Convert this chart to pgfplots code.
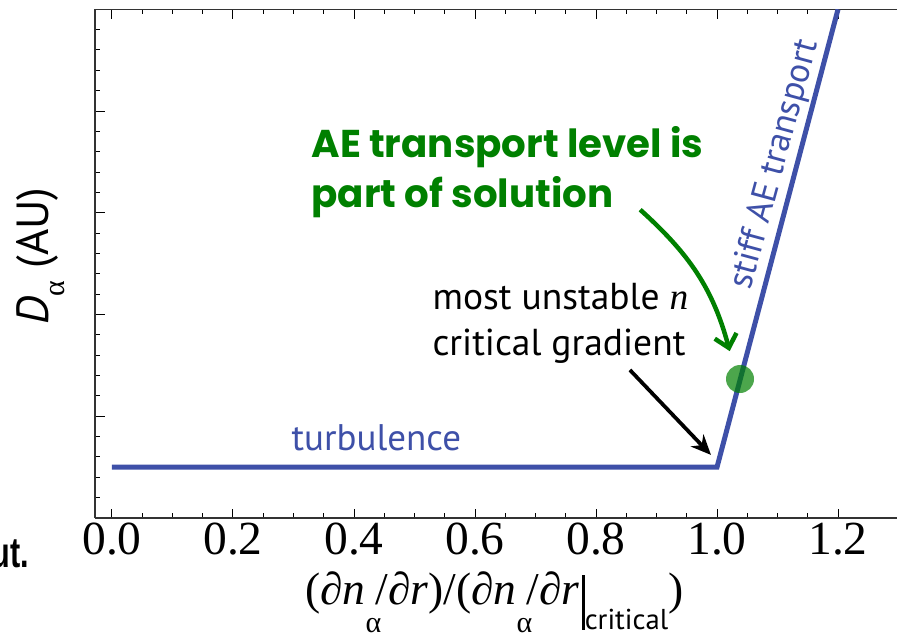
\documentclass[border=0pt]{standalone}
\usepackage{fontspec}
\setmainfont{Liberation Serif}
\newfontfamily\myr{PT Sans}
\newfontfamily\gothic{Poppins}
\newfontfamily\hel{Liberation Sans}
\usepackage{pgfplots}
\pgfplotsset{compat=1.18}
\usetikzlibrary{arrows.meta}
\definecolor{myblue}{RGB}{62,80,168}
\definecolor{mygreen}{RGB}{0,128,0}
\newcommand\suba{\makebox[0.22em][l]{\raisebox{-11pt}{\fontsize{12}{12}\selectfont α}}}
\begin{document}
\begin{tikzpicture}
\begin{axis}[
  width=321.4pt, height=203.5pt, scale only axis,
  xmin=-0.028, xmax=1.3, ymin=0, ymax=5,
  axis x line*=box, axis y line*=left,
  clip mode=individual,
  xtick={0,0.2,0.4,0.6,0.8,1.0,1.2}, minor x tick num=3,
  ytick={0,1,2,3,4,5}, minor y tick num=4, yticklabels={},
  tick align=inside,
  major tick length=3.8pt, minor tick length=2pt,
  tick style={black, line width=0.4pt},
  axis line style={black!80, line width=0.6pt},
  /pgf/number format/assume math mode=true,
  xticklabel style={font=\fontsize{19}{19}\selectfont, yshift=1.4pt,
    /pgf/number format/fixed, /pgf/number format/fixed zerofill,
    /pgf/number format/precision=1},
]
\addplot[myblue, line width=2pt] coordinates {(0,0.5) (1.0,0.5) (1.2,5)};
\addplot[only marks, mark=*, mark size=5.6pt,
  mark options={fill=mygreen, fill opacity=0.7, draw opacity=0}]
  coordinates {(1.038,1.366)};

\node[anchor=base west, inner sep=0, text=myblue, font=\myr\fontsize{14.8}{16}\selectfont]
  at (axis cs:0.296,0.668) {turbulence};
\node[anchor=base, inner sep=0, text=myblue, rotate=74.8, font=\myr\fontsize{14.2}{16}\selectfont]
  at (axis cs:1.1114,3.453) {stiff AE transport};
\node[anchor=base west, inner sep=0, font=\myr\fontsize{15}{18}\selectfont]
  at (axis cs:0.529,2.045) {most unstable {\rmfamily\itshape n}};
\node[anchor=base west, inner sep=0, font=\myr\fontsize{15}{18}\selectfont]
  at (axis cs:0.529,1.60) {critical gradient};
\node[anchor=base west, inner sep=0, text=mygreen, font=\gothic\bfseries\fontsize{15.5}{20}\selectfont]
  at (axis cs:0.329,3.54) {AE transport level is};
\node[anchor=base west, inner sep=0, text=mygreen, font=\gothic\bfseries\fontsize{15.5}{20}\selectfont]
  at (axis cs:0.329,3.05) {part of solution};

\draw[black, line width=1.5pt, -{Stealth[length=8pt,width=7pt]}]
  (axis cs:0.856,1.455) -- (axis cs:0.990,0.62);
\draw[mygreen, line width=1.8pt, -{Straight Barb[length=5pt,width=9pt]}]
  (axis cs:0.873,3.03) to[out=-42,in=105] (axis cs:1.021,1.64);

% y label
\node[rotate=90, anchor=center, inner sep=0, font=\myr\fontsize{18}{18}\selectfont]
  at (axis cs:-0.118,2.575) {{\itshape D}\raisebox{-0.35em}{\rmfamily\fontsize{12}{12}\selectfont α} (AU)};
% x label
\node[anchor=base, inner sep=0, font=\rmfamily\fontsize{18.2}{18}\selectfont]
  at (axis cs:0.632,-0.855) {(∂{\itshape n}\suba/∂{\itshape r})/(∂{\itshape n}\suba/∂{\itshape r}\kern1pt\rule[-10pt]{1.1pt}{22pt}\raisebox{-10pt}{\myr\fontsize{11.5}{11.5}\selectfont critical})};
% cut-off text
\node[anchor=base east, inner sep=0, font=\hel\bfseries\fontsize{17}{17}\selectfont, xscale=0.72]
  at (axis cs:-0.137,-0.482) {ut.};

\coordinate (BL) at (axis cs:-0.1851,-1.130);
\coordinate (TR) at (axis cs:1.2975,5.091);
\end{axis}
\pgfresetboundingbox
\useasboundingbox (BL) rectangle (TR);
\end{tikzpicture}
\end{document}
